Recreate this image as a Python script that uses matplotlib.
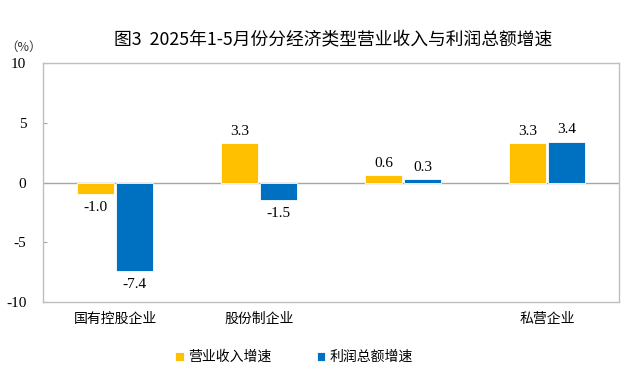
import matplotlib
matplotlib.use("Agg")
import matplotlib.pyplot as plt
import numpy as np

plt.rcParams['font.family'] = ['Noto Sans CJK SC', 'DejaVu Sans']

categories = ["国有控股企业", "股份制企业", "", "私营企业"]
revenue = [-1.0, 3.3, 0.6, 3.3]
profit = [-7.4, -1.5, 0.3, 3.4]
series_names = ["营业收入增速", "利润总额增速"]
yticks = [-10, -5, 0, 5, 10]

c_rev = "#FFC000"
c_pro = "#0070C0"
numfont = dict(family=['Liberation Serif'], fontsize=11)

fig = plt.figure(figsize=(6.4, 3.72), dpi=100)
ax = fig.add_axes([43/640, 1-302/372, 576/640, 239/372])

x = np.arange(len(categories))
w = 0.26
off = 0.135
b1 = ax.bar(x - off, revenue, w, color=c_rev, edgecolor="white", linewidth=0.6, label=series_names[0], zorder=3)
b2 = ax.bar(x + off, profit, w, color=c_pro, edgecolor="white", linewidth=0.6, label=series_names[1], zorder=3)

for bars, vals in ((b1, revenue), (b2, profit)):
    for rect, v in zip(bars, vals):
        cx = rect.get_x() + rect.get_width() / 2
        if v >= 0:
            ax.text(cx, v + 0.45, f"{v:.1f}", ha="center", va="bottom", **numfont)
        else:
            ax.text(cx, v - 0.55, f"{v:.1f}", ha="center", va="top", **numfont)

ax.axhline(0, color="#A6A6A6", linewidth=1.0, zorder=2)
ax.set_xlim(-0.5, len(categories) - 0.5)
ax.set_ylim(-10, 10)
ax.set_yticks(yticks)
ax.set_yticklabels([str(t) for t in yticks], **numfont)
ax.set_xticks(x)
ax.set_xticklabels(categories, fontsize=10)
ax.tick_params(axis="x", length=0, pad=7)
ax.tick_params(axis="y", direction="in", length=3, color="#A6A6A6", pad=12)
for s in ax.spines.values():
    s.set_color("#BFBFBF")
    s.set_linewidth(1.0)

fig.text(24/640, 1-47/372, "（%）", ha="center", va="center", fontsize=9, color="#333333")
fig.text(333/640, 1-39/372, "图3  2025年1-5月份分经济类型营业收入与利润总额增速", ha="center", va="center",
         fontsize=12.8, fontweight="medium")

leg = fig.legend(handles=[b1, b2], labels=series_names, loc="center", bbox_to_anchor=(294/640, 1-357/372),
                 ncol=2, frameon=False, fontsize=10, handlelength=0.6, handleheight=0.6,
                 handletextpad=0.3, columnspacing=3.3)

fig.savefig("out.png", dpi=100)
